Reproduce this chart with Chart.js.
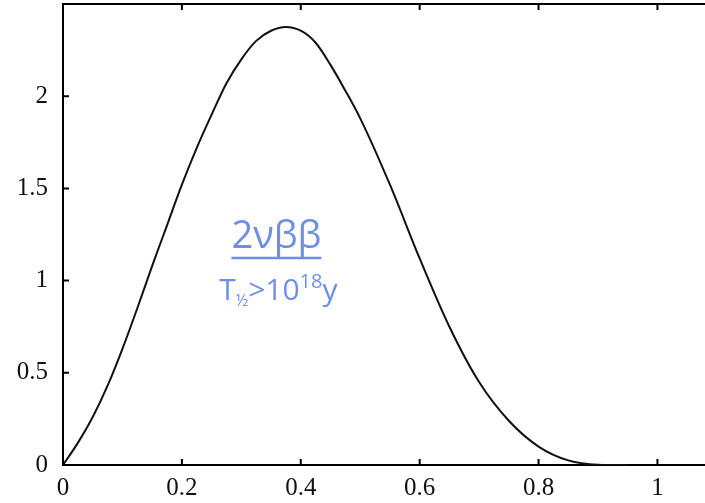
<!DOCTYPE html>
<html>
<head>
<meta charset="utf-8">
<script src="https://cdn.jsdelivr.net/npm/chart.js@4.4.1/dist/chart.umd.min.js"></script>
<style>
  html, body { margin: 0; padding: 0; background: #fff; }
  #wrap { width: 705px; height: 503px; position: relative; }
</style>
</head>
<body>
<div id="wrap"><canvas id="grafico"></canvas></div>
<script>
// energia (fração de Q) e espectro 2vββ
const energia = [0, 0.025, 0.05, 0.075, 0.1, 0.125, 0.15, 0.175, 0.2, 0.225, 0.25, 0.275, 0.3, 0.325, 0.35, 0.375, 0.4, 0.425, 0.45, 0.475, 0.5, 0.55, 0.6, 0.65, 0.7, 0.75, 0.8, 0.85, 0.9, 0.95];
const espectro = [0, 0.12, 0.26, 0.43, 0.63, 0.85, 1.08, 1.30, 1.52, 1.72, 1.90, 2.07, 2.20, 2.30, 2.355, 2.375, 2.355, 2.29, 2.17, 2.03, 1.88, 1.52, 1.12, 0.75, 0.45, 0.24, 0.10, 0.025, 0.002, 0];
const ticksX = [0, 0.2, 0.4, 0.6, 0.8, 1];
const ticksY = [0, 0.5, 1, 1.5, 2];
const labelTitulo = "2νββ";

const serif = "'Liberation Serif', 'DejaVu Serif', serif";
const corAnot = "#6e8ee8";

// ticks para dentro + borda superior
const ticksInternos = {
    id: "ticksInternos",
    afterDraw(chart) {
        const { ctx, chartArea, scales } = chart;
        ctx.save();
        ctx.strokeStyle = "#000";
        ctx.lineWidth = 2;
        ctx.beginPath();
        ctx.moveTo(chartArea.left, chartArea.top);
        ctx.lineTo(chartArea.right, chartArea.top);
        scales.x.ticks.forEach(t => {
            const px = scales.x.getPixelForValue(t.value);
            ctx.moveTo(px, chartArea.bottom);
            ctx.lineTo(px, chartArea.bottom - 6);
            ctx.moveTo(px, chartArea.top);
            ctx.lineTo(px, chartArea.top + 6);
        });
        scales.y.ticks.forEach(t => {
            const py = scales.y.getPixelForValue(t.value);
            ctx.moveTo(chartArea.left, py);
            ctx.lineTo(chartArea.left + 6, py);
        });
        ctx.stroke();
        ctx.restore();
    }
};

// anotação "2vββ / T½>10^18 y"
const anotacao = {
    id: "anotacao",
    afterDraw(chart) {
        const { ctx, scales } = chart;
        const cx = scales.x.getPixelForValue(0.359);
        const y1 = scales.y.getPixelForValue(1.177);
        const y2 = scales.y.getPixelForValue(0.895);
        ctx.save();
        ctx.fillStyle = corAnot;
        ctx.strokeStyle = corAnot;
        ctx.textBaseline = "alphabetic";

        ctx.font = "38px 'Open Sans', sans-serif";
        const w1 = ctx.measureText(labelTitulo).width;
        ctx.textAlign = "left";
        ctx.fillText(labelTitulo, cx - w1 / 2, y1);
        ctx.lineWidth = 2.5;
        ctx.beginPath();
        ctx.moveTo(cx - w1 / 2, y1 + 10);
        ctx.lineTo(cx + w1 / 2, y1 + 10);
        ctx.stroke();

        // segunda linha montada em partes
        const partes = [
            { t: "T", f: "30px", dy: 0 },
            { t: "½", f: "16px", dy: 6 },
            { t: ">10", f: "30px", dy: 0 },
            { t: "18", f: "20px", dy: -12 },
            { t: "y", f: "30px", dy: 0 }
        ];
        let total = 0;
        partes.forEach(p => {
            ctx.font = p.f + " 'Open Sans', sans-serif";
            p.w = ctx.measureText(p.t).width;
            total += p.w;
        });
        let x = cx - total / 2 + 2;
        partes.forEach(p => {
            ctx.font = p.f + " 'Open Sans', sans-serif";
            ctx.fillText(p.t, x, y2 + p.dy);
            x += p.w;
        });
        ctx.restore();
    }
};

const ctx = document.getElementById("grafico").getContext("2d");

new Chart(ctx, {
    type: "line",
    data: {
        datasets: [{
            data: energia.map((e, i) => ({ x: e, y: espectro[i] })),
            borderColor: "#111",
            borderWidth: 2,
            pointRadius: 0,
            fill: false,
            cubicInterpolationMode: "monotone"
        }]
    },
    options: {
        responsive: true,
        maintainAspectRatio: false,
        animation: false,
        layout: { padding: { top: 4, right: 0, left: 0, bottom: 0 } },
        plugins: {
            legend: { display: false },
            tooltip: { enabled: false }
        },
        scales: {
            x: {
                type: "linear",
                min: 0,
                max: 1.08,
                afterBuildTicks: scale => { scale.ticks = ticksX.map(v => ({ value: v })); },
                afterFit: scale => { scale.height = 38; scale.paddingLeft = 0; scale.paddingRight = 0; },
                grid: { drawOnChartArea: false, drawTicks: false },
                border: { color: "#000", width: 2 },
                ticks: {
                    padding: 8,
                    color: "#111",
                    font: { family: serif, size: 25 },
                    maxRotation: 0,
                    callback: v => String(v)
                }
            },
            y: {
                min: 0,
                max: 2.5,
                afterBuildTicks: scale => { scale.ticks = ticksY.map(v => ({ value: v })); },
                afterFit: scale => { scale.width = 63; scale.paddingTop = 0; scale.paddingBottom = 0; },
                grid: { drawOnChartArea: false, drawTicks: false },
                border: { color: "#000", width: 2 },
                ticks: {
                    padding: 15,
                    color: "#111",
                    font: { family: serif, size: 25 },
                    callback: v => String(v)
                }
            }
        }
    },
    plugins: [ticksInternos, anotacao]
});
</script>
</body>
</html>
